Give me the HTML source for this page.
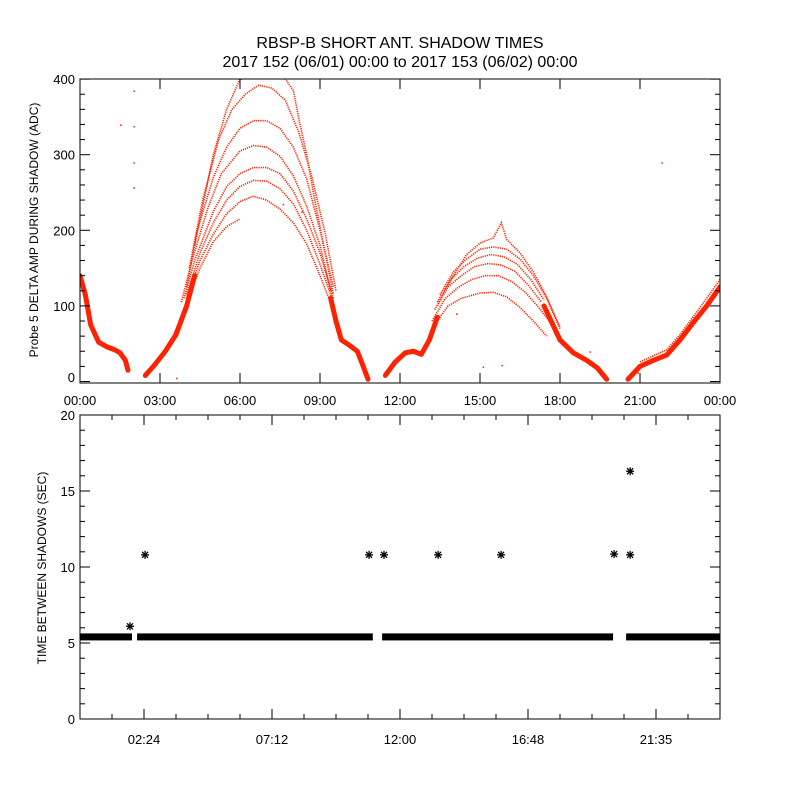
<!DOCTYPE html>
<html><head><meta charset="utf-8"><style>
body{margin:0;background:#fff}
svg text{font-family:"Liberation Sans",sans-serif;fill:#000}
</style></head><body>
<svg id="c" width="800" height="800" viewBox="0 0 800 800" xmlns="http://www.w3.org/2000/svg">
<rect width="800" height="800" fill="#fff"/>
<text x="400" y="48" font-size="16" text-anchor="middle">RBSP-B SHORT ANT. SHADOW TIMES</text>
<text x="400" y="67" font-size="16" text-anchor="middle">2017 152 (06/01) 00:00 to 2017 153 (06/02) 00:00</text>
<text transform="translate(38,230) rotate(-90)" font-size="12" text-anchor="middle">Probe 5 DELTA AMP DURING SHADOW (ADC)</text>
<text transform="translate(46,568) rotate(-90)" font-size="12" text-anchor="middle">TIME BETWEEN SHADOWS (SEC)</text>
<g id="topPanel"></g><g id="botPanel"></g>
</svg>
<script>
// ---- top panel data: tracks of [hour, ADC] ----
const topXTicks=["00:00","03:00","06:00","09:00","12:00","15:00","18:00","21:00","00:00"];
const topYTicks=[0,100,200,300,400];
const bandTracks=[
 [[0,140],[0.2,115],[0.4,75],[0.7,52],[1.0,46],[1.3,42],[1.5,38],[1.7,28],[1.8,15]],
 [[2.45,8],[2.8,22],[3.2,40],[3.6,62],[4.0,100],[4.3,140]],
 [[9.4,110],[9.6,80],[9.8,55],[10.1,48],[10.4,40],[10.6,22],[10.8,3]],
 [[11.45,8],[11.8,25],[12.2,38],[12.5,40],[12.8,36],[13.1,55],[13.4,85]],
 [[17.4,100],[17.6,85],[18,55],[18.5,38],[19,28],[19.4,18],[19.75,3]],
 [[20.55,3],[21,20],[21.5,28],[22,35],[22.5,55],[23,78],[23.5,100],[24,125]]
];
const dotTracks=[
 [[3.5,60],[4,105],[4.5,150],[5,185],[5.5,205],[6,215]],
 [[4.0,110],[4.5,160],[5,195],[5.5,222],[6,238],[6.5,245],[7,240],[7.5,228],[8,210],[8.5,182],[9,140],[9.5,95]],
 [[4.0,115],[4.5,170],[5,210],[5.5,240],[6,258],[6.5,266],[7,265],[7.5,255],[8,235],[8.5,200],[9,155],[9.5,105]],
 [[3.9,110],[4.3,160],[5,225],[5.5,258],[6,275],[6.5,283],[7,283],[7.5,275],[8,252],[8.5,215],[9,170],[9.5,110]],
 [[3.8,105],[4.2,160],[4.8,230],[5.3,275],[6,305],[6.5,312],[7,310],[7.5,298],[8,272],[8.5,232],[9,180],[9.4,120]],
 [[4.0,125],[4.4,200],[5,270],[5.5,310],[6,335],[6.5,345],[7,345],[7.5,335],[8,310],[8.5,268],[9,200],[9.5,125]],
 [[4.1,150],[4.6,240],[5.2,320],[5.7,360],[6.2,380],[6.7,392],[7.2,388],[7.7,372],[8.2,330],[8.7,270],[9.2,195],[9.6,120]],
 [[4.3,180],[5,300],[5.5,360],[6,400],[7.6,405],[8,385],[8.25,340],[8.5,300],[8.75,250],[9,205],[9.25,160],[9.5,115]],
 [[13.3,75],[13.8,100],[14.3,110],[15,117],[15.5,118],[16,112],[16.5,98],[17,80],[17.5,60]],
 [[13.2,80],[13.7,110],[14.2,125],[14.7,135],[15.2,140],[15.7,140],[16.2,132],[16.7,118],[17.2,98],[17.7,75]],
 [[13.3,95],[13.8,125],[14.3,140],[14.8,152],[15.3,156],[15.8,154],[16.3,146],[16.8,128],[17.3,105]],
 [[13.4,105],[13.9,135],[14.4,152],[14.9,163],[15.4,168],[15.9,165],[16.4,155],[16.9,135],[17.4,108]],
 [[13.5,115],[14,145],[14.5,162],[15,175],[15.5,178],[16,175],[16.5,162],[17,140],[17.5,110],[18,70]],
 [[13.4,100],[14,140],[14.5,168],[15,183],[15.5,190],[15.8,210],[16,188],[16.5,170],[17,145],[17.5,112],[18,72]],
 [[21,26],[21.5,34],[22,42],[22.5,62],[23,86],[23.5,110],[24,135]]
];
const outliers=[[1.5,340],[2.0,385],[2.0,338],[2.0,290],[2.0,257],[3.6,5],[7.6,235],[8.3,225],[14.1,90],[15.1,20],[15.8,22],[19.1,40],[20.9,12],[21.8,290]];
// ---- bottom panel data ----
const botXTickVals=[2.4,7.2,12,16.8,21.6];
const botXTicks=["02:24","07:12","12:00","16:48","21:35"];
const botYTicks=[0,5,10,15,20];
const bandSegments=[[0,1.95],[2.14,10.98],[11.33,19.99],[20.48,24]];
const bandValue=[5.4];
const starHours=[1.875,2.44,10.84,11.4,13.43,15.79,20.03,20.63,20.63];
const starValues=[6.1,10.8,10.8,10.8,10.8,10.8,10.85,10.8,16.3];

const NS="http://www.w3.org/2000/svg";
const L=80,R=720;
const x=h=>L+(R-L)*h/24;
const yT=v=>381.5-v*0.756, T0=79,B0=383;
const yB=v=>719-v*15.2, T1=415,B1=719;
function el(tag,a,p){const e=document.createElementNS(NS,tag);for(const k in a)e.setAttribute(k,a[k]);p.appendChild(e);return e;}
const gTop=document.getElementById('topPanel'),gBot=document.getElementById('botPanel');
const red="#ff2200";
const clip=el('clipPath',{id:'ct'},gTop);el('rect',{x:L,y:T0,width:R-L,height:B0-T0},clip);
const gd=el('g',{'clip-path':'url(#ct)'},gTop);
bandTracks.forEach(t=>{const p=el('path',{d:'M'+t.map(q=>x(q[0])+','+yT(q[1])).join('L'),fill:'none',stroke:red,'stroke-width':5,'stroke-linejoin':'round','stroke-linecap':'round'},gd);

});
dotTracks.forEach(t=>{const p=el('path',{d:'M'+t.map(q=>x(q[0])+','+yT(q[1])).join('L'),fill:'none',stroke:red,'stroke-width':1.6,'stroke-dasharray':'1.2 1'},gd);

});
outliers.forEach(q=>{const r=el('rect',{x:x(q[0]),y:yT(q[1]),width:1.5,height:1.5,fill:red},gd);

});
function frame(g,T,B,name){const r=el('rect',{x:L,y:T,width:R-L,height:B-T,fill:'none',stroke:'#000','stroke-width':1},g);

}
frame(gTop,T0,B0,'top-plot-frame');frame(gBot,T1,B1,'bottom-plot-frame');
topXTicks.forEach((s,i)=>{const xx=x(i*3);el('line',{x1:xx,x2:xx,y1:B0,y2:B0-10,stroke:'#000'},gTop);el('line',{x1:xx,x2:xx,y1:T0,y2:T0+10,stroke:'#000'},gTop);
const t=el('text',{x:xx,y:B0+22,'font-size':13,'text-anchor':'middle'},gTop);t.textContent=s;

});
for(let v=0;v<=400;v+=20){const yy=yT(v),w=v%100==0?10:5;el('line',{x1:L,x2:L+w,y1:yy,y2:yy,stroke:'#000'},gTop);el('line',{x1:R,x2:R-w,y1:yy,y2:yy,stroke:'#000'},gTop);}
topYTicks.forEach(v=>{const t=el('text',{x:L-5,y:Math.min(yT(v),377)+5,'font-size':13,'text-anchor':'end'},gTop);t.textContent=v;

});
for(let i=1;i<20;i++){const xx=x(i*1.2),w=(i%4==2)?10:5;el('line',{x1:xx,x2:xx,y1:B1,y2:B1-w,stroke:'#000'},gBot);el('line',{x1:xx,x2:xx,y1:T1,y2:T1+w,stroke:'#000'},gBot);}
botXTickVals.forEach((h,i)=>{const t=el('text',{x:x(h),y:B1+25,'font-size':13,'text-anchor':'middle'},gBot);t.textContent=botXTicks[i];

});
for(let v=0;v<=20;v++){const yy=yB(v),w=v%5==0?10:5;el('line',{x1:L,x2:L+w,y1:yy,y2:yy,stroke:'#000'},gBot);el('line',{x1:R,x2:R-w,y1:yy,y2:yy,stroke:'#000'},gBot);}
botYTicks.forEach(v=>{const t=el('text',{x:L-5,y:yB(v)+5,'font-size':13,'text-anchor':'end'},gBot);t.textContent=v;

});
bandSegments.forEach(s=>{const r=el('rect',{x:x(s[0]),y:yB(bandValue[0])-3.5,width:x(s[1])-x(s[0]),height:7,fill:'#000'},gBot);

});
starHours.forEach((h,i)=>{const cx=x(h),cy=yB(starValues[i]);const g=el('g',{stroke:'#000','stroke-width':1.3},gBot);


el('line',{x1:cx-4,x2:cx+4,y1:cy,y2:cy},g);el('line',{x1:cx,x2:cx,y1:cy-4,y2:cy+4},g);el('line',{x1:cx-3,x2:cx+3,y1:cy-3,y2:cy+3},g);el('line',{x1:cx-3,x2:cx+3,y1:cy+3,y2:cy-3},g);});
</script>
</body></html>
